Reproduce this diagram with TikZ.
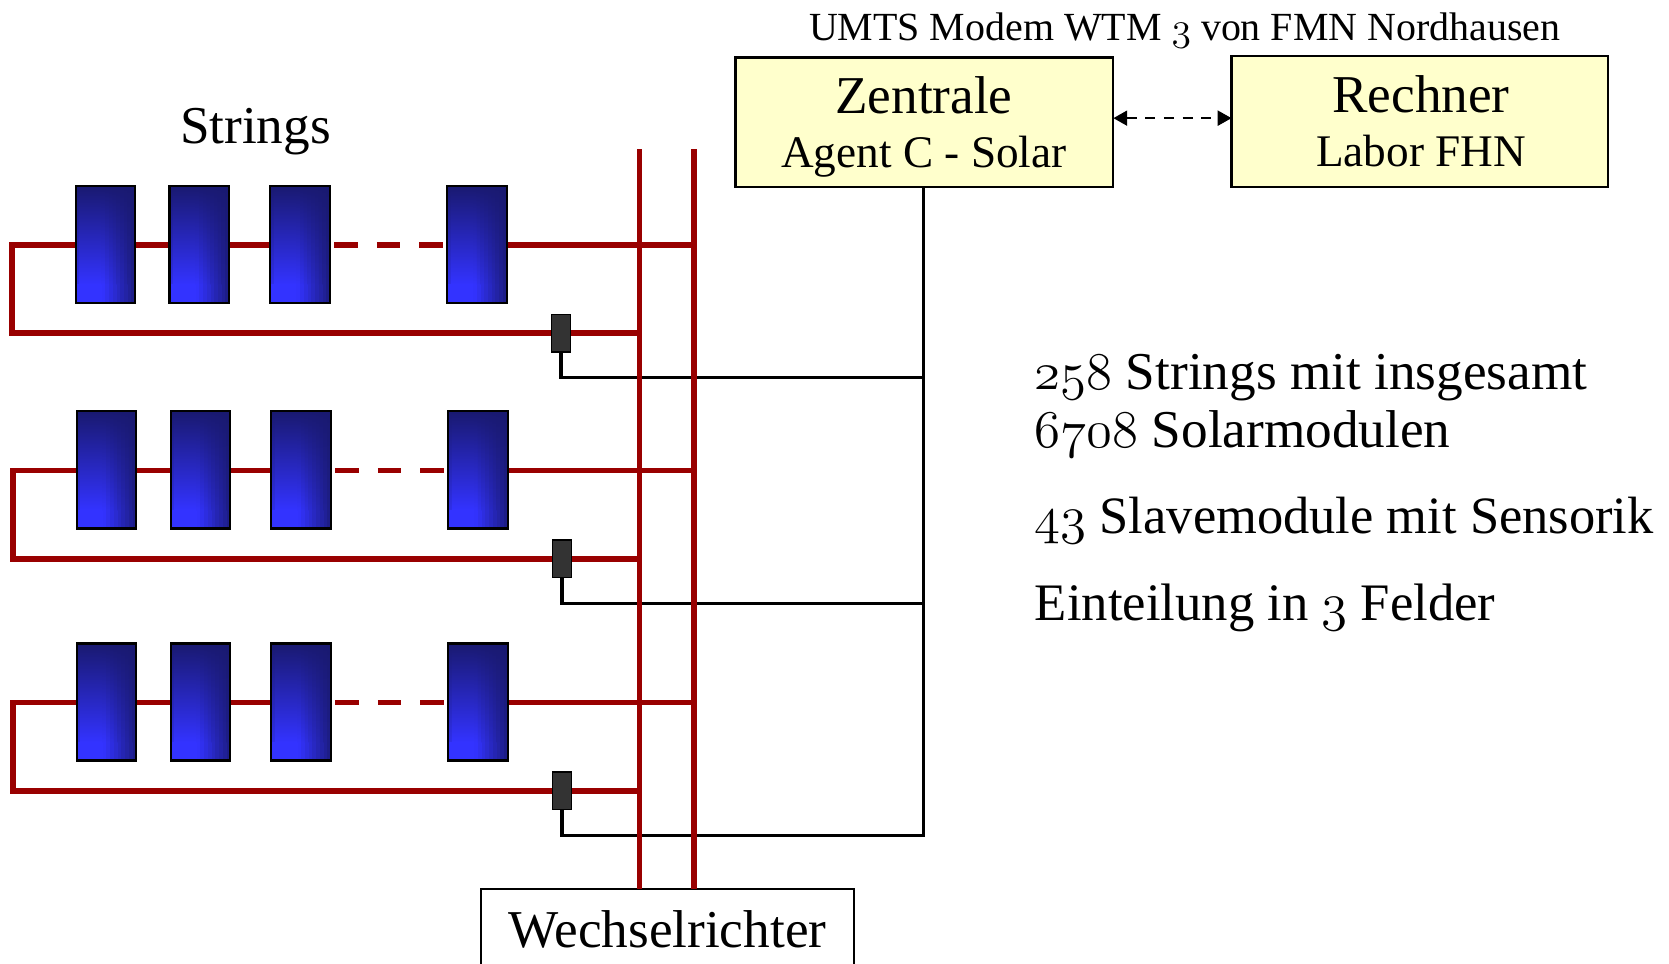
\documentclass[tikz,border=0pt]{standalone}
\usepackage{fontspec}
\setmainfont{Liberation Serif}
\usetikzlibrary{arrows.meta,shadings}
\definecolor{redline}{HTML}{990000}
\definecolor{boxyellow}{HTML}{FFFFCC}
\definecolor{navy}{HTML}{191970}
\definecolor{bright}{HTML}{3333FF}
\newcommand{\osnb}[1]{\scalebox{2}{\fontsize{24.88}{26}\usefont{OML}{lmm}{m}{it}#1}}
\newcommand{\osns}[1]{\scalebox{1.5}{\fontsize{24.88}{26}\usefont{OML}{lmm}{m}{it}#1}}
\tikzset{
  x=1pt,y=-1pt,
  redwire/.style={draw=redline,line width=5.5pt},
  blackwire/.style={draw=black,line width=3pt},
  module/.style={draw=black,line width=2pt,minimum width=56pt,minimum height=110pt,inner sep=0pt,
    path picture={
      \foreach \i in {0,...,15}{
        \pgfmathsetmacro{\xa}{\i*3.5}
        \pgfmathsetmacro{\xb}{\i*3.5+3.9}
        \pgfmathtruncatemacro{\pc}{\xa<24 ? 100 : 100-(\xa-24)*2.9}
        \shade[top color=navy,bottom color=bright!\pc!navy]
          ([xshift=\xa pt]path picture bounding box.north west) rectangle ([xshift=\xb pt,yshift=-93pt]path picture bounding box.north west);
        \fill[bright!\pc!navy]
          ([xshift=\xa pt,yshift=-92.5pt]path picture bounding box.north west) rectangle ([xshift=\xb pt]path picture bounding box.south west);
      }
    }},
  sensor/.style={draw=black,fill=black!80,line width=1.6pt,minimum width=18pt,minimum height=35pt,inner sep=0pt},
  yellowbox/.style={draw=black,fill=boxyellow,line width=2pt,inner sep=0pt},
  lbl/.style={inner sep=0pt,anchor=base},
  lblw/.style={inner sep=0pt,anchor=base west},
  big/.style={font=\fontsize{50}{54}\selectfont},
  bigb/.style={font=\fontsize{49.3}{54}\selectfont},
  bigc/.style={font=\fontsize{49.5}{54}\selectfont},
  mid/.style={font=\fontsize{42.5}{46}\selectfont},
  small/.style={font=\fontsize{37.5}{40}\selectfont},
}
\begin{document}
\begin{tikzpicture}
\useasboundingbox (0,0) rectangle (1568,905);
\fill[white] (0,0) rectangle (1568,905);
% boxes
\node[yellowbox,minimum width=355pt,minimum height=122pt] (zentrale) at (868.5,115) {};
\node[yellowbox,minimum width=354pt,minimum height=123pt] (rechner) at (1334,114.5) {};
\node[draw=black,fill=white,line width=2pt,minimum width=350pt,minimum height=100pt,inner sep=0pt] (wr) at (627,885) {};
\coordinate (r1top) at (601,140);
\coordinate (r2top) at (652,140);
\coordinate (r1bot) at (601,835);
\coordinate (r2bot) at (652,835);
% rows: index / x-offset / top wire / bottom wire / control wire / left wire x
\foreach \r/\dx/\ya/\yb/\yc/\yl in {1/0/230/313/355/11,2/1/442/525/567/12.5,3/1/660/743/785/12.5}{
  \coordinate (la\r) at (\yl,\ya);
  \coordinate (lb\r) at (\yl,\yb);
  \coordinate (ra\r) at (652,\ya);
  \coordinate (rb\r) at (601,\yb);
  \coordinate (sc\r) at (867.5,\yc);
  \node[module] (m\r a) at (99+\dx,\ya-0.5) {};
  \node[module] (m\r b) at (187.3+\dx,\ya-0.5) {};
  \node[module] (m\r c) at (282+\dx,\ya-0.5) {};
  \node[module] (m\r d) at (448+\dx,\ya-0.5) {};
  \draw[redwire] (m\r a.west |- la\r) -- (la\r) -- (lb\r) -- (rb\r);
  \draw[redwire] (m\r a.east |- la\r) -- (m\r b.west |- la\r);
  \draw[redwire] (m\r b.east |- la\r) -- (m\r c.west |- la\r);
  \draw[redwire] (m\r d.east |- la\r) -- (ra\r);
  \draw[redwire,dash pattern=on 22pt off 18pt,dash phase=37pt] (m\r c.east |- la\r) -- (m\r d.west |- la\r);
  \node[sensor] (s\r) at (527+\dx,\yb) {};
  \draw[blackwire] (s\r.south) |- (sc\r);
}
\draw[blackwire,line cap=rect] (sc1 |- zentrale.south) -- (sc3);
\draw[redline,line width=5pt] (r1top) -- (r1bot);
\draw[redline,line width=5pt] (r2top) -- (r2bot);
\coordinate (al) at (1046,111);
\coordinate (ar) at (1157,111);
\draw[line width=2.2pt,dash pattern=on 9.5pt off 8pt,{Triangle[length=13pt,width=14pt]}-{Triangle[length=13pt,width=14pt]}] (al) -- (ar);
% labels
\node[lbl,big] (t1) at (240,135) {Strings};
\node[lbl,small] (t2) at (1113,38) {UMTS Modem WTM \osns{3} von FMN Nordhausen};
\node[lbl,big] (t3) at (868,107) {Zentrale};
\node[lbl,mid] (t4) at (868,157) {Agent C - Solar};
\node[lbl,big] (t5) at (1335,106) {Rechner};
\node[lbl,mid] (t6) at (1335,156) {Labor FHN};
\node[lbl,big] (t7) at (627,890) {Wechselrichter};
\node[lblw,big] (t8) at (972,366) {\osnb{258} Strings mit insgesamt};
\node[lblw,big] (t9) at (972,420) {\osnb{6708} Solarmodulen};
\node[lblw,bigb] (t10) at (972,501) {\osnb{43} Slavemodule mit Sensorik};
\node[lblw,bigc] (t11) at (972,583) {Einteilung in \osnb{3} Felder};
\end{tikzpicture}
\end{document}
